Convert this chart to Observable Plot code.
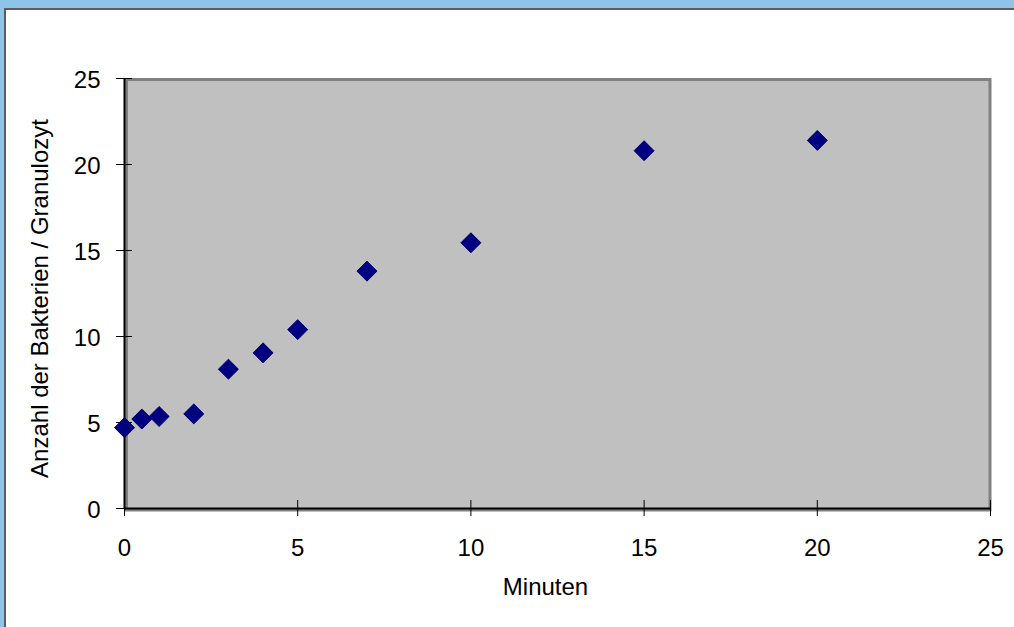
<!DOCTYPE html>
<html>
<head>
<meta charset="utf-8">
<script src="https://cdn.jsdelivr.net/npm/d3@7"></script>
<script src="https://cdn.jsdelivr.net/npm/@observablehq/plot@0.6"></script>
<style>
  html, body { margin: 0; padding: 0; background: #fff; }
  #wrap { position: relative; width: 1014px; height: 627px; overflow: hidden; background: #fff; }
  #wrap svg { position: absolute; left: 0; top: 0; }
  .deco { position: absolute; }
</style>
</head>
<body>
<div id="wrap">
  <div id="chart"></div>
  <div class="deco" style="left:0;top:0;width:1014px;height:8px;background:#8EC4EA;"></div>
  <div class="deco" style="left:0;top:8px;width:1014px;height:2px;background:#5C5C5C;"></div>
  <div class="deco" style="left:0;top:0;width:4px;height:627px;background:#8EC4EA;"></div>
  <div class="deco" style="left:4px;top:8px;width:2px;height:619px;background:#5C5C5C;"></div>
</div>
<script>
// Data
const minutes  = [0, 0.5, 1, 2, 3, 4, 5, 7, 10, 15, 20];
const bacteria = [4.7, 5.2, 5.35, 5.5, 8.1, 9.05, 10.4, 13.8, 15.45, 20.8, 21.4];
const xTicks = [0, 5, 10, 15, 20, 25];
const yTicks = [0, 5, 10, 15, 20, 25];
const xLabel = "Minuten";
const yLabel = "Anzahl der Bakterien / Granulozyt";

const points = minutes.map((m, i) => ({minutes: m, bacteria: bacteria[i]}));

const font = "'Liberation Sans', Arial, Helvetica, sans-serif";

const chart = Plot.plot({
  width: 1014,
  height: 627,
  marginLeft: 124,
  marginRight: 24,
  marginTop: 78,
  marginBottom: 119,
  style: {fontFamily: font, fontSize: "24px", color: "#000", background: "transparent"},
  x: {domain: [0, 25]},
  y: {domain: [0, 25]},
  marks: [
    Plot.frame({fill: "#C0C0C0", stroke: "#808080", strokeWidth: 3, insetLeft: 2, insetTop: 1, insetRight: 0.5, insetBottom: -1.5}),
    Plot.ruleX([0], {stroke: "#000", strokeWidth: 2}),
    Plot.ruleY([0], {stroke: "#000", strokeWidth: 2}),
    Plot.axisY({ticks: yTicks, tickSize: 8, tickFormat: () => "", label: null, stroke: "#000"}),
    Plot.axisY({ticks: yTicks, tickSize: -8, tickFormat: () => "", label: null, stroke: "#000"}),
    Plot.axisY({ticks: yTicks, tickSize: 0, tickPadding: 24, dy: 2, label: null, fontSize: 24, fill: "#000"}),
    Plot.axisX({ticks: xTicks, tickSize: 8, tickPadding: 22, label: null, fontSize: 24, stroke: "#000"}),
    Plot.axisX({ticks: xTicks, tickSize: -8, tickFormat: () => "", label: null, stroke: "#000"}),
    Plot.dot(points, {x: "minutes", y: "bacteria", symbol: "diamond2", r: 9, fill: "#000080", stroke: "#00006A", strokeWidth: 1}),
    Plot.text([xLabel], {text: d => d, frameAnchor: "bottom", dx: -12, dy: 79, fontSize: 24, fill: "#000", lineAnchor: "middle", textAnchor: "middle"}),
    Plot.text([yLabel], {text: d => d, frameAnchor: "left", rotate: -90, dx: -84, dy: 5, fontSize: 24, fill: "#000", lineAnchor: "middle", textAnchor: "middle"})
  ]
});
document.getElementById("chart").appendChild(chart);
</script>
</body>
</html>
